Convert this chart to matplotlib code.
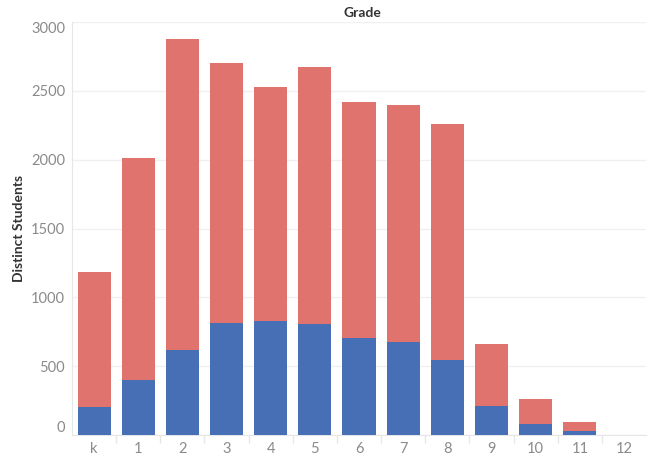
import matplotlib.pyplot as plt
import numpy as np

# Distinct students per grade, stacked: blue part at bottom, red part on top
grades = ['k', '1', '2', '3', '4', '5', '6', '7', '8', '9', '10', '11', '12']
blue_vals = [200, 400, 620, 810, 830, 808, 707, 678, 547, 208, 77, 29, 0]
total_vals = [1185, 2010, 2880, 2700, 2530, 2672, 2420, 2398, 2262, 661, 261, 94, 0]
red_vals = [t - b for t, b in zip(total_vals, blue_vals)]
y_ticks = [0, 500, 1000, 1500, 2000, 2500, 3000]

red = '#E0736E'
blue = '#476FB5'
grid_col = '#F0F0F0'
label_col = '#8A8A8A'

plt.rcParams['font.family'] = ['Lato', 'DejaVu Sans']

fig = plt.figure(figsize=(6.52, 4.58), dpi=100)
ax = fig.add_axes([72 / 652, 23 / 458, 574 / 652, 413 / 458])

x = np.arange(len(grades))
ax.bar(x, blue_vals, width=0.75, color=blue, zorder=3)
ax.bar(x, red_vals, width=0.75, bottom=blue_vals, color=red, zorder=3)

ax.set_xlim(-0.5, len(grades) - 0.5)
ax.set_ylim(0, 3000)
ax.set_yticks(y_ticks)
ax.set_xticks(x)
ax.set_xticklabels(grades)
ax.grid(axis='y', color=grid_col, linewidth=1, zorder=0)

# small separators between categories on the baseline
ax.set_xticks(x[:-1] + 0.5, minor=True)
ax.tick_params(axis='x', which='minor', length=6, color='#E6E6E6', width=1)
ax.tick_params(axis='x', which='major', length=0, pad=5, labelsize=10.5, labelcolor=label_col)
ax.tick_params(axis='y', length=0, pad=5, labelsize=10.5, labelcolor=label_col)

for side in ['top', 'right']:
    ax.spines[side].set_visible(False)
ax.spines['left'].set_color('#E6E6E6')
ax.spines['bottom'].set_color('#E6E6E6')

# keep end labels inside the plot range
ylabs = ax.get_yticklabels()
ylabs[0].set_va('bottom')
ylabs[-1].set_va('top')

ax.set_ylabel('Distinct Students', fontsize=10, fontweight='bold', color='#333333', labelpad=4)
fig.text(362 / 652, 1 - 13 / 458, 'Grade', ha='center', va='center', fontsize=10,
         fontweight='bold', color='#333333')

fig.savefig('out.png', dpi=100)
